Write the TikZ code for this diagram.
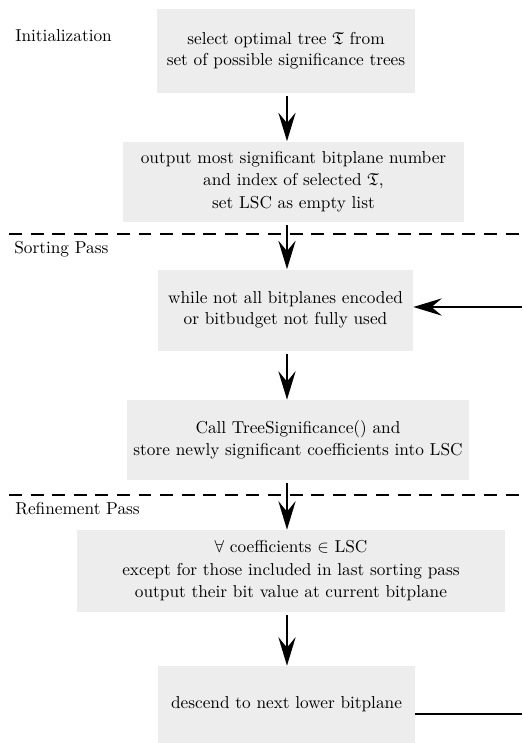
\documentclass[tikz,border=0pt]{standalone}
\usepackage{amssymb}
\usetikzlibrary{arrows.meta}
\definecolor{boxgray}{RGB}{237,237,237}
\begin{document}
\begin{tikzpicture}[x=0.579pt,y=-0.579pt,
  box/.style={fill=boxgray, align=center, inner sep=0pt, font=\normalsize},
  wh/.style 2 args={minimum width=#1*0.579pt, minimum height=#2*0.579pt},
  arr/.style={line width=1.1pt, -{Stealth[length=16.5pt,width=10pt,inset=6pt]}, shorten <=1.8pt},
  sep/.style={line width=0.8pt, dash pattern=on 7.5pt off 5pt},
  lbl/.style={anchor=west, inner sep=0pt, font=\normalsize}]
\useasboundingbox (0,0) rectangle (522,743);

\node[box, wh={258}{84}] (b1) at (286,51) {select optimal tree $\mathfrak{T}$ from\\set of possible significance trees};
\node[box, wh={341}{80}] (b2) at (293.5,181.5) {output most significant bitplane number\\[1pt]and index of selected $\mathfrak{T}$,\\[1pt]set LSC as empty list};
\node[box, wh={255}{81}] (b3) at (285.5,310) {while not all bitplanes encoded\\or bitbudget not fully used};
\node[box, wh={342}{80}] (b4) at (298,440) {Call TreeSignificance() and\\[1pt]store newly significant coefficients into LSC};
\node[box, wh={428}{82}] (b5) at (291,571) {$\forall$ coefficients $\in$ LSC\\[1pt]except for those included in last sorting pass\\[1pt]output their bit value at current bitplane};
\node[box, wh={257}{77}] (b6) at (286.5,704.5) {descend to next lower bitplane};

\node[lbl] (l1) at (15,36) {Initialization};
\node[lbl] (l2) at (14,249) {Sorting Pass};
\node[lbl] (l3) at (15,509) {Refinement Pass};

\coordinate (ax) at (287,0);
\coordinate (d1a) at (9,234);
\coordinate (d1b) at (522,234);
\coordinate (d2a) at (9,495);
\coordinate (d2b) at (522,495);
\coordinate (rin) at (522,307);
\coordinate (rout) at (522,714);

\draw[sep] (d1a) -- (d1b);
\draw[sep] (d2a) -- (d2b);

\draw[arr] (b1.south -| ax) -- (b2.north -| ax);
\draw[arr] (b2.south -| ax) -- (b3.north -| ax);
\draw[arr] (b3.south -| ax) -- (b4.north -| ax);
\draw[arr] (b4.south -| ax) -- (b5.north -| ax);
\draw[arr] (b5.south -| ax) -- (b6.north -| ax);
\draw[arr, shorten <=0pt] (rin) -- (rin -| b3.east);
\draw[line width=1.1pt] (rout -| b6.east) -- (rout);
\end{tikzpicture}
\end{document}
